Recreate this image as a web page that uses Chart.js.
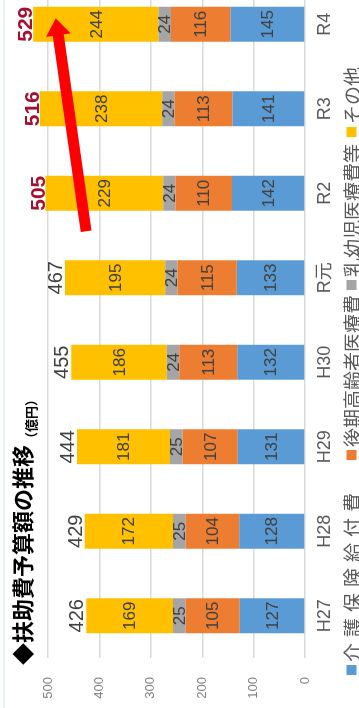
<!DOCTYPE html>
<html lang="ja">
<head>
<meta charset="utf-8">
<title>扶助費予算額の推移</title>
<script src="https://cdn.jsdelivr.net/npm/chart.js@4.4.1/dist/chart.umd.min.js"></script>
<style>
  html, body { margin: 0; padding: 0; background: #fff; }
  body { width: 359px; height: 708px; overflow: hidden; position: relative; }
  /* the chart is laid out landscape and turned a quarter turn to read upward */
  #frame {
    position: absolute; left: 0; top: 0;
    width: 730px; height: 401px;
    transform-origin: 0 0;
    transform: translate(-30px, 708px) rotate(-90deg);
  }
  #edge { position: absolute; left: 3px; top: 0; width: 2px; height: 708px; background: #e2f4f9; }
</style>
</head>
<body>
<div id="frame"><canvas id="chart" width="730" height="401"></canvas></div>
<div id="edge"></div>
<script>
// fiscal years
const categories = ['H27', 'H28', 'H29', 'H30', 'R元', 'R2', 'R3', 'R4'];
// budget by category (億円)
const kaigoHoken = [127, 128, 131, 132, 133, 142, 141, 145];
const koukiKoreisha = [105, 104, 107, 113, 115, 110, 113, 116];
const nyuyojiIryo = [25, 25, 25, 24, 24, 24, 24, 24];
const sonota = [169, 172, 181, 186, 195, 229, 238, 244];
const seriesNames = ['介護保険給付費', '後期高齢者医療費', '乳幼児医療費等', 'その他'];
const seriesColors = ['#5b9bd5', '#ed7d31', '#a5a5a5', '#ffc000'];
// value axis
const valueMin = 0;
const valueMax = 600;
const valueStep = 100;
// totals from this year on are shown in red
const emphasisFrom = 5;
// trend arrow, given as [category index, value]
const arrowTail = [4.55, 426];
const arrowTip = [7.07, 485];

const seriesValues = [kaigoHoken, koukiKoreisha, nyuyojiIryo, sonota];
const totals = categories.map((_, i) => seriesValues.reduce((s, arr) => s + arr[i], 0));

const latin = '"Liberation Sans", "Noto Sans CJK JP", sans-serif';
const cjk = '"Noto Sans CJK JP", sans-serif';

// legend row: where each entry starts and extra spacing between its characters
const legendLayout = { y: 381.5, starts: [33, 248, 418, 571], tracking: [6, 0, 0, 0], box: 10, gap: 3 };

const barLabels = {
  id: 'barLabels',
  afterDatasetsDraw(chart) {
    const { ctx } = chart;
    ctx.save();
    ctx.textAlign = 'center';
    ctx.textBaseline = 'middle';
    ctx.font = '17px ' + latin;
    ctx.fillStyle = '#404040';
    chart.data.datasets.forEach((ds, i) => {
      chart.getDatasetMeta(i).data.forEach((bar, j) => {
        ctx.fillText(String(ds.data[j]), bar.x, (bar.y + bar.base) / 2 + 1);
      });
    });
    const top = chart.getDatasetMeta(chart.data.datasets.length - 1).data;
    ctx.textBaseline = 'alphabetic';
    top.forEach((bar, j) => {
      if (j >= emphasisFrom) {
        ctx.font = 'bold 21px ' + latin;
        ctx.fillStyle = '#a50f2d';
        ctx.fillText(String(totals[j]), bar.x, bar.y - 1);
      } else {
        ctx.font = '20px ' + latin;
        ctx.fillStyle = '#404040';
        ctx.fillText(String(totals[j]), bar.x, bar.y - 3);
      }
    });
    ctx.restore();
  }
};

const trendArrow = {
  id: 'trendArrow',
  afterDraw(chart) {
    const { ctx, scales: { x, y } } = chart;
    const tx = x.getPixelForValue(arrowTail[0]), ty = y.getPixelForValue(arrowTail[1]);
    const px = x.getPixelForValue(arrowTip[0]), py = y.getPixelForValue(arrowTip[1]);
    const len = Math.hypot(px - tx, py - ty);
    const ux = (px - tx) / len, uy = (py - ty) / len;
    const nx = -uy, ny = ux;
    const shaft = 5.5, headW = 12.5, headL = 17;
    const hx = px - ux * headL, hy = py - uy * headL;
    ctx.save();
    ctx.fillStyle = '#ff0000';
    ctx.beginPath();
    ctx.moveTo(tx + nx * shaft, ty + ny * shaft);
    ctx.lineTo(hx + nx * shaft, hy + ny * shaft);
    ctx.lineTo(hx + nx * headW, hy + ny * headW);
    ctx.lineTo(px, py);
    ctx.lineTo(hx - nx * headW, hy - ny * headW);
    ctx.lineTo(hx - nx * shaft, hy - ny * shaft);
    ctx.lineTo(tx - nx * shaft, ty - ny * shaft);
    ctx.closePath();
    ctx.fill();
    ctx.restore();
  }
};

const heading = {
  id: 'heading',
  afterDraw(chart) {
    const { ctx } = chart;
    ctx.save();
    ctx.fillStyle = '#000';
    ctx.textAlign = 'left';
    ctx.textBaseline = 'alphabetic';
    ctx.font = 'bold 22px ' + cjk;
    const main = '◆扶助費予算額の推移';
    ctx.fillText(main, 43, 61);
    const w = ctx.measureText(main).width;
    ctx.font = 'bold 13px ' + cjk;
    ctx.fillText('（億円）', 43 + w, 66);
    ctx.restore();
  }
};

const legendRow = {
  id: 'legendRow',
  afterDraw(chart) {
    const { ctx } = chart;
    const L = legendLayout;
    ctx.save();
    ctx.font = '19px ' + cjk;
    ctx.textAlign = 'left';
    ctx.textBaseline = 'middle';
    chart.data.datasets.forEach((ds, i) => {
      const bx = L.starts[i];
      ctx.fillStyle = ds.backgroundColor;
      ctx.fillRect(bx, L.y - L.box / 2, L.box, L.box);
      ctx.fillStyle = '#595959';
      let cx = bx + L.box + L.gap;
      for (const chr of ds.label) {
        ctx.fillText(chr, cx, L.y + 1);
        cx += ctx.measureText(chr).width + L.tracking[i];
      }
    });
    ctx.restore();
  }
};

new Chart(document.getElementById('chart'), {
  type: 'bar',
  data: {
    labels: categories,
    datasets: seriesValues.map((vals, i) => ({
      label: seriesNames[i],
      data: vals,
      backgroundColor: seriesColors[i],
      borderWidth: 0,
      barPercentage: 0.414,
      categoryPercentage: 1
    }))
  },
  options: {
    responsive: false,
    animation: false,
    layout: { padding: { left: 8, right: 4, top: 11.6, bottom: 35 } },
    scales: {
      x: {
        stacked: true,
        grid: { display: false, drawTicks: false },
        border: { display: false },
        ticks: { padding: 9, color: '#595959', font: { family: latin, size: 18 } },
        afterFit(scale) { scale.height = 31; }
      },
      y: {
        stacked: true,
        min: valueMin,
        max: valueMax,
        grid: { color: '#d9d9d9', lineWidth: 1.5, drawTicks: false },
        border: { display: false },
        ticks: { stepSize: valueStep, padding: 19, color: '#7f7f7f', font: { family: latin, size: 13 } },
        afterFit(scale) { scale.width = 42; }
      }
    },
    plugins: {
      legend: { display: false },
      tooltip: { enabled: false },
      title: { display: false }
    }
  },
  plugins: [barLabels, trendArrow, heading, legendRow]
});
</script>
</body>
</html>
